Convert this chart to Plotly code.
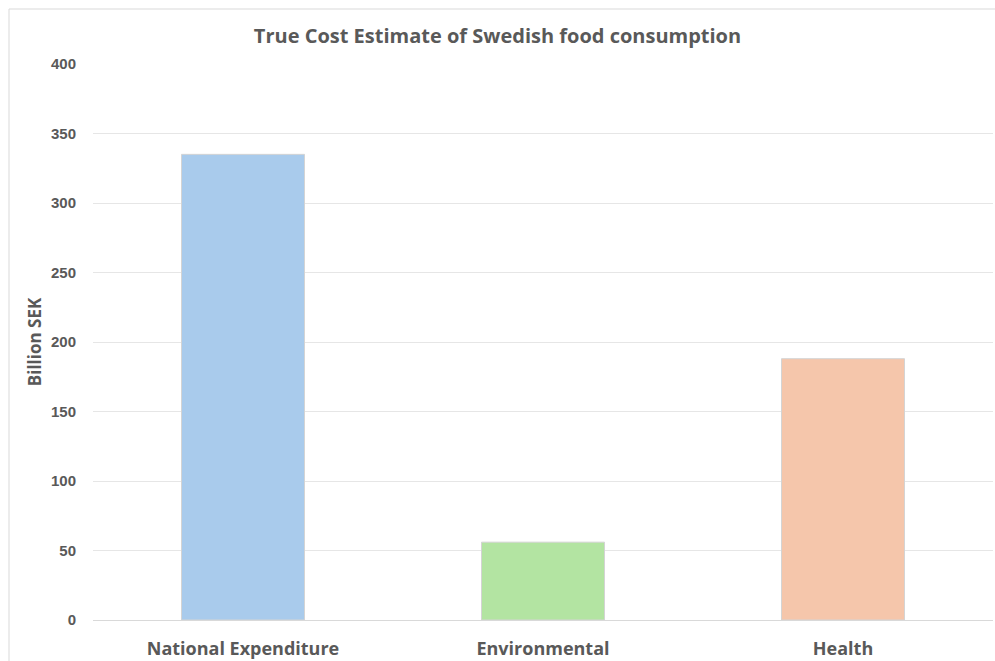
import plotly.graph_objects as go

# Cost components (billion SEK)
categories = ["National Expenditure", "Environmental", "Health"]
values = [335, 56, 188]
bar_colors = ["#A9CBEC", "#B3E4A2", "#F5C6AB"]
y_ticks = [0, 50, 100, 150, 200, 250, 300, 350, 400]

W, H = 995, 661
L, R, T, B = 93, 2, 64, 41
pw, ph = W - L - R, H - T - B

fig = go.Figure(
    go.Bar(
        x=categories,
        y=values,
        marker=dict(color=bar_colors, line=dict(color="#d4d4d4", width=1)),
        width=0.41,
        hoverinfo="x+y",
    )
)

text_color = "#595959"
fig.update_layout(
    width=W,
    height=H,
    margin=dict(l=L, r=R, t=T, b=B),
    paper_bgcolor="white",
    plot_bgcolor="white",
    showlegend=False,
    font=dict(family="Open Sans", color=text_color),
    title=dict(
        text="<b>True Cost Estimate of Swedish food consumption</b>",
        x=0.5,
        xanchor="center",
        y=1 - 36 / H,
        yanchor="middle",
        font=dict(size=20, color=text_color),
    ),
    xaxis=dict(
        automargin=False,
        showgrid=False,
        showline=True,
        linecolor="#d9d9d9",
        linewidth=1,
        ticks="",
        ticklabelstandoff=12,
        tickfont=dict(size=18, color=text_color, weight="bold"),
    ),
    yaxis=dict(
        automargin=False,
        range=[0, 400],
        tickvals=y_ticks,
        showgrid=True,
        gridcolor="#e6e6e6",
        gridwidth=1,
        zeroline=False,
        showline=False,
        ticks="",
        ticklabelstandoff=16,
        tickfont=dict(family="Liberation Sans", size=15, color=text_color, weight="bold"),
        title=dict(
            text="<b>Billion SEK</b>",
            font=dict(size=17, color=text_color),
            standoff=5,
        ),
    ),
    shapes=[
        dict(
            type="rect",
            xref="paper",
            yref="paper",
            x0=(9 - L) / pw,
            x1=(W + 20 - L) / pw,
            y0=-(B + 20) / ph,
            y1=1 + (T - 9) / ph,
            line=dict(color="#d9d9d9", width=1),
            fillcolor="rgba(0,0,0,0)",
            layer="below",
        )
    ],
)

fig.write_html("out.html")
